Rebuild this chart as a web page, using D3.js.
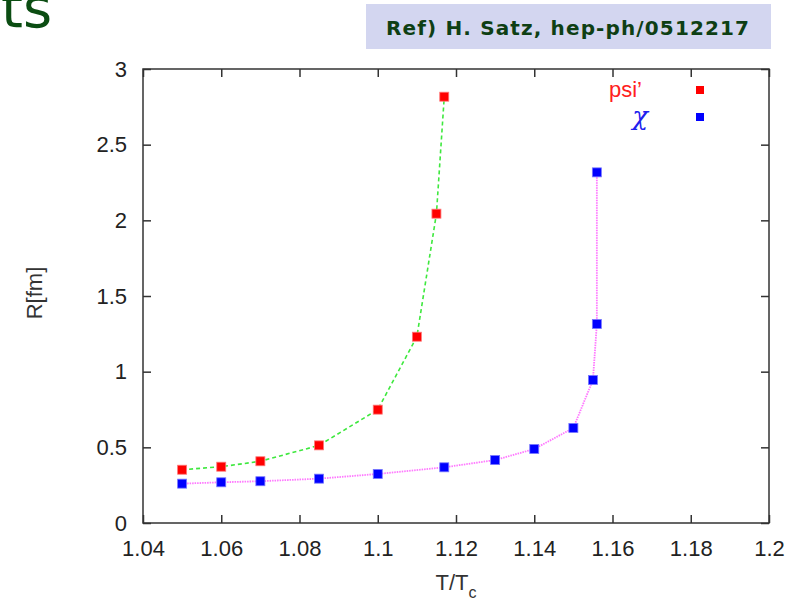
<!DOCTYPE html>
<html>
<head>
<meta charset="UTF-8">
<title>R vs T/Tc</title>
<style>
  body { margin: 0; background: #fff; }
  svg text { font-family: "Liberation Sans", Arial, sans-serif; }
</style>
</head>
<body>
<script src="https://d3js.org/d3.v7.min.js"></script>
<script>
// data
var psiT = [1.05, 1.06, 1.07, 1.085, 1.10, 1.11, 1.115, 1.117];
var psiR = [0.352, 0.372, 0.408, 0.513, 0.749, 1.231, 2.044, 2.817];

var chiT = [1.05, 1.06, 1.07, 1.085, 1.10, 1.117, 1.13, 1.14, 1.15, 1.155, 1.156, 1.156];
var chiR = [0.26, 0.269, 0.276, 0.293, 0.324, 0.368, 0.416, 0.489, 0.628, 0.945, 1.315, 2.317];

var xTicks = [1.04, 1.06, 1.08, 1.1, 1.12, 1.14, 1.16, 1.18, 1.2];
var yTicks = [0, 0.5, 1, 1.5, 2, 2.5, 3];

var margin = { top: 69, right: 31, bottom: 83, left: 143 };
var W = 800, H = 606;
var width = W - margin.left - margin.right,
    height = H - margin.top - margin.bottom;

var svg = d3.select("body").append("svg")
  .attr("width", W)
  .attr("height", H);

// slide decorations
svg.append("text")
  .attr("x", 1)
  .attr("y", 27)
  .attr("fill", "#0b4d12")
  .style("font-family", "DejaVu Sans, Verdana, sans-serif")
  .style("font-size", "56px")
  .text("ts");

svg.append("rect")
  .attr("x", 366).attr("y", 4)
  .attr("width", 405).attr("height", 45)
  .attr("fill", "#d3d6f0");

svg.append("text")
  .attr("x", 386)
  .attr("y", 35)
  .attr("fill", "#0e3f14")
  .attr("textLength", 363)
  .style("font-family", "DejaVu Sans, Verdana, sans-serif")
  .style("font-weight", "bold")
  .style("font-size", "20px")
  .text("Ref) H. Satz, hep-ph/0512217");

var g = svg.append("g")
  .attr("transform", "translate(" + margin.left + "," + margin.top + ")");

var x = d3.scaleLinear().domain([1.04, 1.2]).range([0, width]);
var y = d3.scaleLinear().domain([0, 3]).range([height, 0]);

var fmt = function(d) { return String(+d.toFixed(2)); };

function styleAxis(sel, showText) {
  sel.select(".domain").remove();
  sel.selectAll(".tick line").attr("stroke", "#333").attr("stroke-width", 1.5);
  sel.selectAll(".tick text")
    .attr("fill", "#222")
    .style("font-size", "22px");
  if (!showText) sel.selectAll(".tick text").remove();
}

g.append("g")
  .attr("transform", "translate(0," + height + ")")
  .call(d3.axisBottom(x).tickValues(xTicks).tickFormat(fmt)
    .tickSizeInner(-8).tickSizeOuter(0).tickPadding(17))
  .call(styleAxis, true);

g.append("g")
  .call(d3.axisTop(x).tickValues(xTicks).tickSizeInner(-8).tickSizeOuter(0))
  .call(styleAxis, false);

g.append("g")
  .call(d3.axisLeft(y).tickValues(yTicks).tickFormat(fmt)
    .tickSizeInner(-8).tickSizeOuter(0).tickPadding(16))
  .call(styleAxis, true);

g.append("g")
  .attr("transform", "translate(" + width + ",0)")
  .call(d3.axisRight(y).tickValues(yTicks).tickSizeInner(-8).tickSizeOuter(0))
  .call(styleAxis, false);

g.append("rect")
  .attr("width", width).attr("height", height)
  .attr("fill", "none")
  .attr("stroke", "#333")
  .attr("stroke-width", 1.5);

// axis titles
svg.append("text")
  .attr("transform", "translate(42,293) rotate(-90)")
  .attr("text-anchor", "middle")
  .attr("fill", "#333")
  .style("font-size", "22px")
  .text("R[fm]");

var xl = svg.append("text")
  .attr("x", 456)
  .attr("y", 590)
  .attr("text-anchor", "middle")
  .attr("fill", "#333")
  .style("font-size", "22px");
xl.append("tspan").text("T/T");
xl.append("tspan").attr("dy", 8).style("font-size", "16px").text("c");

// series
var line = d3.line()
  .x(function(d) { return x(d[0]); })
  .y(function(d) { return y(d[1]); });

var psi = d3.zip(psiT, psiR);
var chi = d3.zip(chiT, chiR);

g.append("path")
  .datum(psi)
  .attr("d", line)
  .attr("fill", "none")
  .attr("stroke", "#3ee83e")
  .attr("stroke-width", 1.6)
  .attr("stroke-dasharray", "4,3");

g.append("path")
  .datum(chi)
  .attr("d", line)
  .attr("fill", "none")
  .attr("stroke", "#ff77ff")
  .attr("stroke-width", 1.8)
  .attr("stroke-dasharray", "1.5,1");

var ms = 9;
function markers(data, color, border) {
  g.selectAll(null)
    .data(data)
    .enter().append("rect")
    .attr("x", function(d) { return x(d[0]) - ms / 2; })
    .attr("y", function(d) { return y(d[1]) - ms / 2; })
    .attr("width", ms).attr("height", ms)
    .attr("fill", color)
    .attr("stroke", border)
    .attr("stroke-width", 0.8);
}
markers(psi, "#ff0000", "#ff7777");
markers(chi, "#0000ff", "#7777ff");

// legend
var legend = [
  { label: "psi\u2019", color: "#ff2020", marker: "#ff0000", italic: false, y: 90 },
  { label: "\u03c7", color: "#2020ee", marker: "#0000ff", italic: true, y: 117 }
];

legend.forEach(function(l) {
  svg.append("text")
    .attr("x", l.italic ? 648 : 642)
    .attr("y", l.y)
    .attr("dy", "0.32em")
    .attr("text-anchor", "end")
    .attr("fill", l.color)
    .style("font-size", l.italic ? "26px" : "22px")
    .style("font-style", l.italic ? "italic" : "normal")
    .style("font-family", l.italic ? "DejaVu Serif, serif" : null)
    .text(l.label);
  svg.append("rect")
    .attr("x", 700 - 4).attr("y", l.y - 4)
    .attr("width", 8).attr("height", 8)
    .attr("fill", l.marker);
});
</script>
</body>
</html>
